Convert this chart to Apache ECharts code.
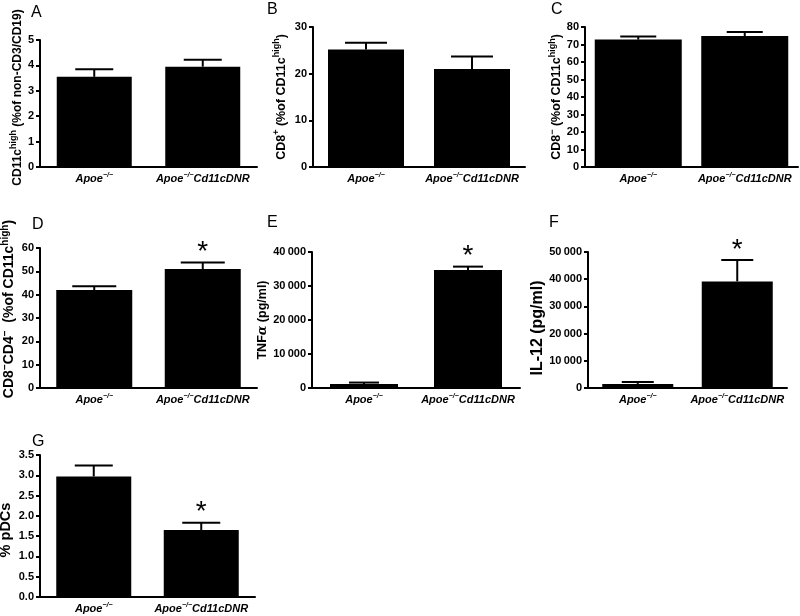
<!DOCTYPE html>
<html>
<head>
<meta charset="utf-8">
<script src="https://cdn.jsdelivr.net/npm/echarts@6/dist/echarts.min.js"></script>
<style>
  html, body { margin: 0; padding: 0; background: #fff; }
  #main { width: 800px; height: 616px; }
</style>
</head>
<body>
<div id="main"></div>
<script>
    // 两组小鼠
    var categories = ['Apoe−/−', 'Apoe−/−Cd11cDNR'];

    // 各面板的均值、误差（SEM）和显著性
    var meanA = [3.55, 3.95];   var errA = [0.30, 0.27];  var sigA = [0, 0];
    var meanB = [25.2, 21.0];   var errB = [1.4, 2.7];    var sigB = [0, 0];
    var meanC = [72.8, 74.8];   var errC = [1.8, 2.3];    var sigC = [0, 0];
    var meanD = [42.0, 51.0];   var errD = [1.6, 2.8];    var sigD = [0, 1];
    var meanE = [1200, 34700];  var errE = [400, 1000];   var sigE = [0, 1];
    var meanF = [1500, 39200];  var errF = [700, 7900];   var sigF = [0, 1];
    var meanG = [2.97, 1.65];   var errG = [0.27, 0.18];  var sigG = [0, 1];

    // y轴范围
    var yMax = [5, 30, 80, 60, 40000, 50000, 3.5];
    var yInterval = [1, 10, 10, 10, 10000, 10000, 0.5];
    var letters = ['A', 'B', 'C', 'D', 'E', 'F', 'G'];

    var yNames = [
        '{b|CD11c}{s|high}{b| (%of non-CD3/CD19)}',
        '{b|CD8}{s|+}{b| (%of CD11c}{s|high}{b|)}',
        '{b|CD8}{s|−}{b| (%of CD11c}{s|high}{b|)}',
        '{b|CD8}{s|−}{b|CD4}{s|−}{b|  (%of CD11c}{s|high}{b|)}',
        '{b|TNF}{g|α}{b| (pg/ml)}',
        '{b|IL-12 (pg/ml)}',
        '{b|% pDCs}'
    ];

    var means = [meanA, meanB, meanC, meanD, meanE, meanF, meanG];
    var errs = [errA, errB, errC, errD, errE, errF, errG];
    var sigs = [sigA, sigB, sigC, sigD, sigE, sigF, sigG];

    // 布局：left, top, width, height, nameGap, barWidth, capWidth, 标题字号, 标题偏移
    var layout = [
        [40, 40, 217, 127, 6, 75, 38, 12, -6],
        [313, 27, 212, 140, 23, 76, 42, 12.5, 0],
        [585, 27, 213, 140, 19, 87, 36, 12.5, 0],
        [40, 248, 217, 140, 21, 76, 44, 14, -9],
        [312, 252, 208, 136, 32, 68, 30, 12.5, 0],
        [588, 252, 199, 136, 20, 71, 32, 16, 8],
        [40, 455, 215, 142, 24, 75, 38, 14.5, 4]
    ];
    var letterPos = [[31, 5], [267, 2], [551, 2], [32, 217], [267, 215], [549, 215], [32, 434]];

    var font = 'Liberation Sans, Arial, sans-serif';

    function tickFmt(i) {
        return function (v) {
            if (i === 6) return v.toFixed(1);
            if (v >= 10000) return String(v).replace(/(\d)(?=(\d{3})$)/, '$1\u2009');
            return String(v);
        };
    }

    var grids = [], xAxes = [], yAxes = [], series = [], graphics = [];

    for (var i = 0; i < 7; i++) {
        var L = layout[i];
        var fs = L[7], sh = L[8];
        grids.push({ left: L[0], top: L[1], width: L[2], height: L[3], outerBoundsMode: 'none' });

        xAxes.push({
            type: 'category', gridIndex: i, data: categories,
            axisLine: { lineStyle: { color: '#000', width: 2 } },
            axisTick: { alignWithLabel: true, length: 4, lineStyle: { color: '#000', width: 2 } },
            axisLabel: {
                margin: 5, interval: 0,
                formatter: function (v) {
                    return '{i|' + v.replace('−/−', '}{s|−/−}{i|') + '}';
                },
                rich: {
                    i: { fontFamily: font, fontSize: 11, fontWeight: 'bold', fontStyle: 'italic', color: '#000', lineHeight: 14 },
                    s: { fontFamily: font, fontSize: 7, fontWeight: 'bold', fontStyle: 'italic', color: '#000', lineHeight: 8, verticalAlign: 'top' }
                }
            }
        });

        yAxes.push({
            type: 'value', gridIndex: i, min: 0, max: yMax[i], interval: yInterval[i],
            splitLine: { show: false },
            axisLine: { show: true, lineStyle: { color: '#000', width: 2 } },
            axisTick: { show: true, length: 4, lineStyle: { color: '#000', width: 2 } },
            axisLabel: { color: '#000', fontFamily: font, fontWeight: 'bold', fontSize: 11, margin: 6, formatter: tickFmt(i) },
            name: yNames[i], nameLocation: 'middle', nameRotate: 90, nameGap: L[4],
            nameTextStyle: {
                // 左右内边距用来让标题沿轴方向偏移
                padding: [0, sh > 0 ? 2 * sh : 0, 0, sh < 0 ? -2 * sh : 0],
                rich: {
                    b: { fontFamily: font, fontSize: fs, fontWeight: 'bold', color: '#000', lineHeight: fs + 5 },
                    s: { fontFamily: font, fontSize: Math.round(fs * 0.72), fontWeight: 'bold', color: '#000', lineHeight: 10, verticalAlign: 'top' },
                    g: { fontFamily: 'DejaVu Serif, serif', fontSize: fs, fontStyle: 'italic', fontWeight: 'bold', color: '#000', lineHeight: fs + 5 }
                }
            }
        });

        series.push({
            type: 'bar', xAxisIndex: i, yAxisIndex: i, data: means[i],
            barWidth: L[5], itemStyle: { color: '#000' }, silent: true
        });

        var ed = [];
        for (var k = 0; k < 2; k++) ed.push([k, means[i][k], errs[i][k], sigs[i][k]]);
        series.push({
            type: 'custom', xAxisIndex: i, yAxisIndex: i, data: ed, z: 5, silent: true,
            encode: { x: 0, y: 1 },
            renderItem: (function (cap) {
                return function (params, api) {
                    var c = api.value(0), v = api.value(1), e = api.value(2), s = api.value(3);
                    var p0 = api.coord([c, v]);
                    var p1 = api.coord([c, v + e]);
                    var st = { stroke: '#000', lineWidth: 2 };
                    var children = [
                        { type: 'line', shape: { x1: p0[0], y1: p0[1], x2: p1[0], y2: p1[1] }, style: st },
                        { type: 'line', shape: { x1: p1[0] - cap / 2, y1: p1[1], x2: p1[0] + cap / 2, y2: p1[1] }, style: st }
                    ];
                    if (s) {
                        children.push({
                            type: 'text', x: p1[0], y: p1[1] + 4,
                            style: { text: '*', fontFamily: font, fontSize: 28, fill: '#000', align: 'center', verticalAlign: 'bottom' }
                        });
                    }
                    return { type: 'group', children: children };
                };
            })(L[6])
        });

        graphics.push({
            type: 'text', left: letterPos[i][0], top: letterPos[i][1],
            style: { text: letters[i], fontFamily: font, fontSize: 16, fill: '#000' }
        });
    }

    var myChart = echarts.init(document.getElementById('main'));
    myChart.setOption({
        animation: false,
        grid: grids,
        xAxis: xAxes,
        yAxis: yAxes,
        series: series,
        graphic: graphics
    });
</script>
</body>
</html>
